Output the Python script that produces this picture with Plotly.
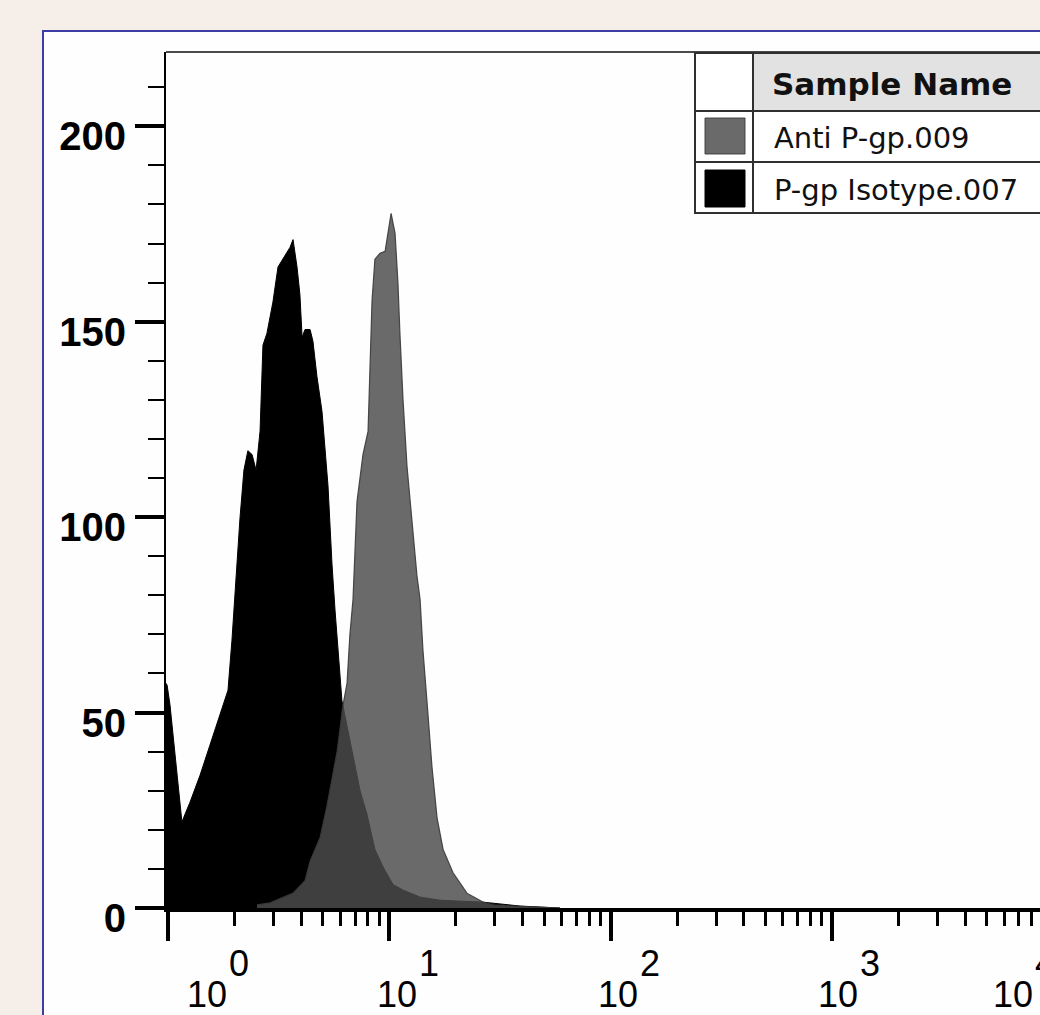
import numpy as np
import plotly.graph_objects as go

# ---------------- data ----------------
# fluorescence channel positions in log10 units, and event counts
iso_log10 = [-0.009, -0.004, 0.009, 0.027, 0.045, 0.063, 0.077, 0.099, 0.145, 0.190,
             0.235, 0.271, 0.289, 0.307, 0.325, 0.343, 0.361, 0.380, 0.398, 0.416,
             0.429, 0.447, 0.474, 0.497, 0.520, 0.551, 0.565, 0.583, 0.596, 0.606,
             0.619, 0.642, 0.655, 0.673, 0.696, 0.709, 0.723, 0.741, 0.755, 0.786,
             0.822, 0.868, 0.899, 0.935, 0.972, 1.017, 1.062, 1.139, 1.229, 1.423,
             1.591, 1.771]
iso_counts = [57.5, 57, 52, 42, 31, 22, 24, 27, 34, 41.7,
              49.4, 55.7, 68.5, 84, 99.5, 112, 117, 116, 112, 122,
              144, 147, 155, 164, 166, 169, 171, 164, 157, 146,
              148, 148, 145, 136, 127, 117, 108, 88, 76, 53,
              43, 30, 24, 15, 10.5, 6, 4.6, 2.8, 2, 1.5,
              0.5, 0]

anti_log10 = [0.402, 0.461, 0.565, 0.619, 0.642, 0.687, 0.718, 0.764, 0.791, 0.809,
              0.822, 0.836, 0.854, 0.881, 0.904, 0.913, 0.922, 0.935, 0.958, 0.981,
              0.994, 1.008, 1.026, 1.039, 1.048, 1.062, 1.080, 1.094, 1.107, 1.125,
              1.139, 1.152, 1.170, 1.193, 1.216, 1.243, 1.288, 1.351, 1.423, 1.469,
              1.591, 1.771]
anti_counts = [0.8, 1.3, 3.8, 7, 12, 18, 26, 40, 52, 57.5,
               70, 79, 104, 116, 122, 138, 155.5, 166, 167.5, 168,
               172.6, 177.7, 172.6, 160, 147, 130, 113, 104, 96, 85,
               79, 66, 53, 36, 23, 15, 9, 3.8, 1.5, 0.8,
               0.4, 0]

series_names = ["Anti P-gp.009", "P-gp Isotype.007"]
legend_header = "Sample Name"
decade_exponents = [0, 1, 2, 3, 4]
y_major_ticks = [0, 50, 100, 150, 200]
y_range = [0, 219]
x_range_log = [-0.009, 4.166]

# ---------------- styles ----------------
ANTI_FILL = "rgba(76,76,76,0.83)"
ANTI_LINE = "rgba(58,58,58,0.9)"
ISO_FILL = "black"
FRAME_BLUE = "#3d3da6"
PAGE_BG = "#f6eee9"

FIG_W, FIG_H = 1110, 1015
L, R, T, B = 166, 1090, 52, 908  # plot area edges in pixels


def px(x):
    return (x - L) / (R - L)


def py(y):
    return (B - y) / (B - T)


fig = go.Figure()

fig.add_trace(go.Scatter(
    x=10 ** np.array(iso_log10), y=iso_counts, mode="lines",
    fill="tozeroy", fillcolor=ISO_FILL,
    line=dict(color=ISO_FILL, width=1),
    name=series_names[1], showlegend=False, hoverinfo="skip"))

fig.add_trace(go.Scatter(
    x=10 ** np.array(anti_log10), y=anti_counts, mode="lines",
    fill="tozeroy", fillcolor=ANTI_FILL,
    line=dict(color=ANTI_LINE, width=1.2),
    name=series_names[0], showlegend=False, hoverinfo="skip"))

minor_vals = [m * 10 ** e for e in range(-1, 5) for m in range(2, 10)]

fig.update_xaxes(
    type="log", range=x_range_log,
    tickvals=[10 ** e for e in decade_exponents], showticklabels=False,
    ticks="outside", ticklen=29, tickwidth=4, tickcolor="black",
    showline=True, linewidth=4, linecolor="black",
    showgrid=False, zeroline=False,
    minor=dict(tickvals=minor_vals, ticks="outside", ticklen=14, tickwidth=3,
               tickcolor="black", showgrid=False),
)

fig.update_yaxes(
    range=y_range, tickvals=y_major_ticks,
    ticks="outside", ticklen=29, tickwidth=4, tickcolor="black",
    showline=True, linewidth=2, linecolor="black",
    showgrid=False, zeroline=False,
    tickfont=dict(family="Liberation Sans, Arial, sans-serif", size=40,
                  color="black", weight="bold"),
    ticklabelstandoff=1, ticklabelshift=10,
    minor=dict(dtick=10, tick0=0, ticks="outside", ticklen=16, tickwidth=2,
               tickcolor="black", showgrid=False),
)

shapes = [
    # blue slide frame with white interior
    dict(type="rect", xref="paper", yref="paper", layer="below",
         x0=px(43), x1=px(1108), y0=py(1040), y1=py(31),
         fillcolor="#fefefe", line=dict(color=FRAME_BLUE, width=2)),
    # top border of the plot box
    dict(type="line", xref="paper", yref="paper", x0=0, x1=1, y0=1, y1=1,
         line=dict(color="#4a4a4a", width=2)),
    # legend table
    dict(type="rect", xref="paper", yref="paper",
         x0=px(695), x1=px(1108), y0=py(213), y1=py(53),
         fillcolor="white", line=dict(width=0)),
    dict(type="rect", xref="paper", yref="paper",
         x0=px(753), x1=px(1108), y0=py(111), y1=py(53),
         fillcolor="#e2e2e2", line=dict(width=0)),
    dict(type="rect", xref="paper", yref="paper",
         x0=px(695), x1=px(1108), y0=py(213), y1=py(53),
         line=dict(color="#303030", width=2)),
    dict(type="line", xref="paper", yref="paper",
         x0=px(753), x1=px(753), y0=py(213), y1=py(53),
         line=dict(color="#303030", width=2)),
    dict(type="line", xref="paper", yref="paper",
         x0=px(695), x1=px(1108), y0=py(111), y1=py(111),
         line=dict(color="#303030", width=2)),
    dict(type="line", xref="paper", yref="paper",
         x0=px(695), x1=px(1108), y0=py(162), y1=py(162),
         line=dict(color="#303030", width=2)),
    dict(type="rect", xref="paper", yref="paper",
         x0=px(705), x1=px(745), y0=py(154), y1=py(118),
         fillcolor=ANTI_FILL, line=dict(color=ANTI_LINE, width=1)),
    dict(type="rect", xref="paper", yref="paper",
         x0=px(705), x1=px(745), y0=py(207), y1=py(170),
         fillcolor=ISO_FILL, line=dict(color="black", width=1)),
]

legend_font = "DejaVu Sans, Verdana, sans-serif"
annotations = [
    dict(text="<b>" + legend_header + "</b>", xref="paper", yref="paper",
         x=px(770), y=py(84), xanchor="left", yanchor="middle", showarrow=False,
         font=dict(family=legend_font, size=31, color="#111")),
    dict(text=series_names[0], xref="paper", yref="paper",
         x=px(772), y=py(137.5), xanchor="left", yanchor="middle", showarrow=False,
         font=dict(family=legend_font, size=29, color="#111")),
    dict(text=series_names[1], xref="paper", yref="paper",
         x=px(772), y=py(190), xanchor="left", yanchor="middle", showarrow=False,
         font=dict(family=legend_font, size=29, color="#111")),
]

# decade tick labels "10" with raised exponent
label_dx = [39, 8, 7, 6, -40]
tick_font = dict(family="Liberation Sans, Arial, sans-serif", size=36, color="black")
for e, dx in zip(decade_exponents, label_dx):
    annotations.append(dict(text="10", xref="x", yref="paper", x=e, y=0,
                            xshift=dx, yshift=-86, showarrow=False,
                            xanchor="center", yanchor="middle", font=tick_font))
    annotations.append(dict(text=str(e), xref="x", yref="paper", x=e, y=0,
                            xshift=dx + 32, yshift=-55, showarrow=False,
                            xanchor="center", yanchor="middle", font=tick_font))

fig.update_layout(
    width=FIG_W, height=FIG_H,
    margin=dict(l=L, r=FIG_W - R, t=T, b=FIG_H - B, pad=0),
    paper_bgcolor=PAGE_BG, plot_bgcolor="white",
    shapes=shapes, annotations=annotations,
    showlegend=False,
)

fig.write_html(
    "out.html",
    config={"displayModeBar": False},
    post_script="document.body.style.margin='0';document.body.style.overflow='hidden';",
)
